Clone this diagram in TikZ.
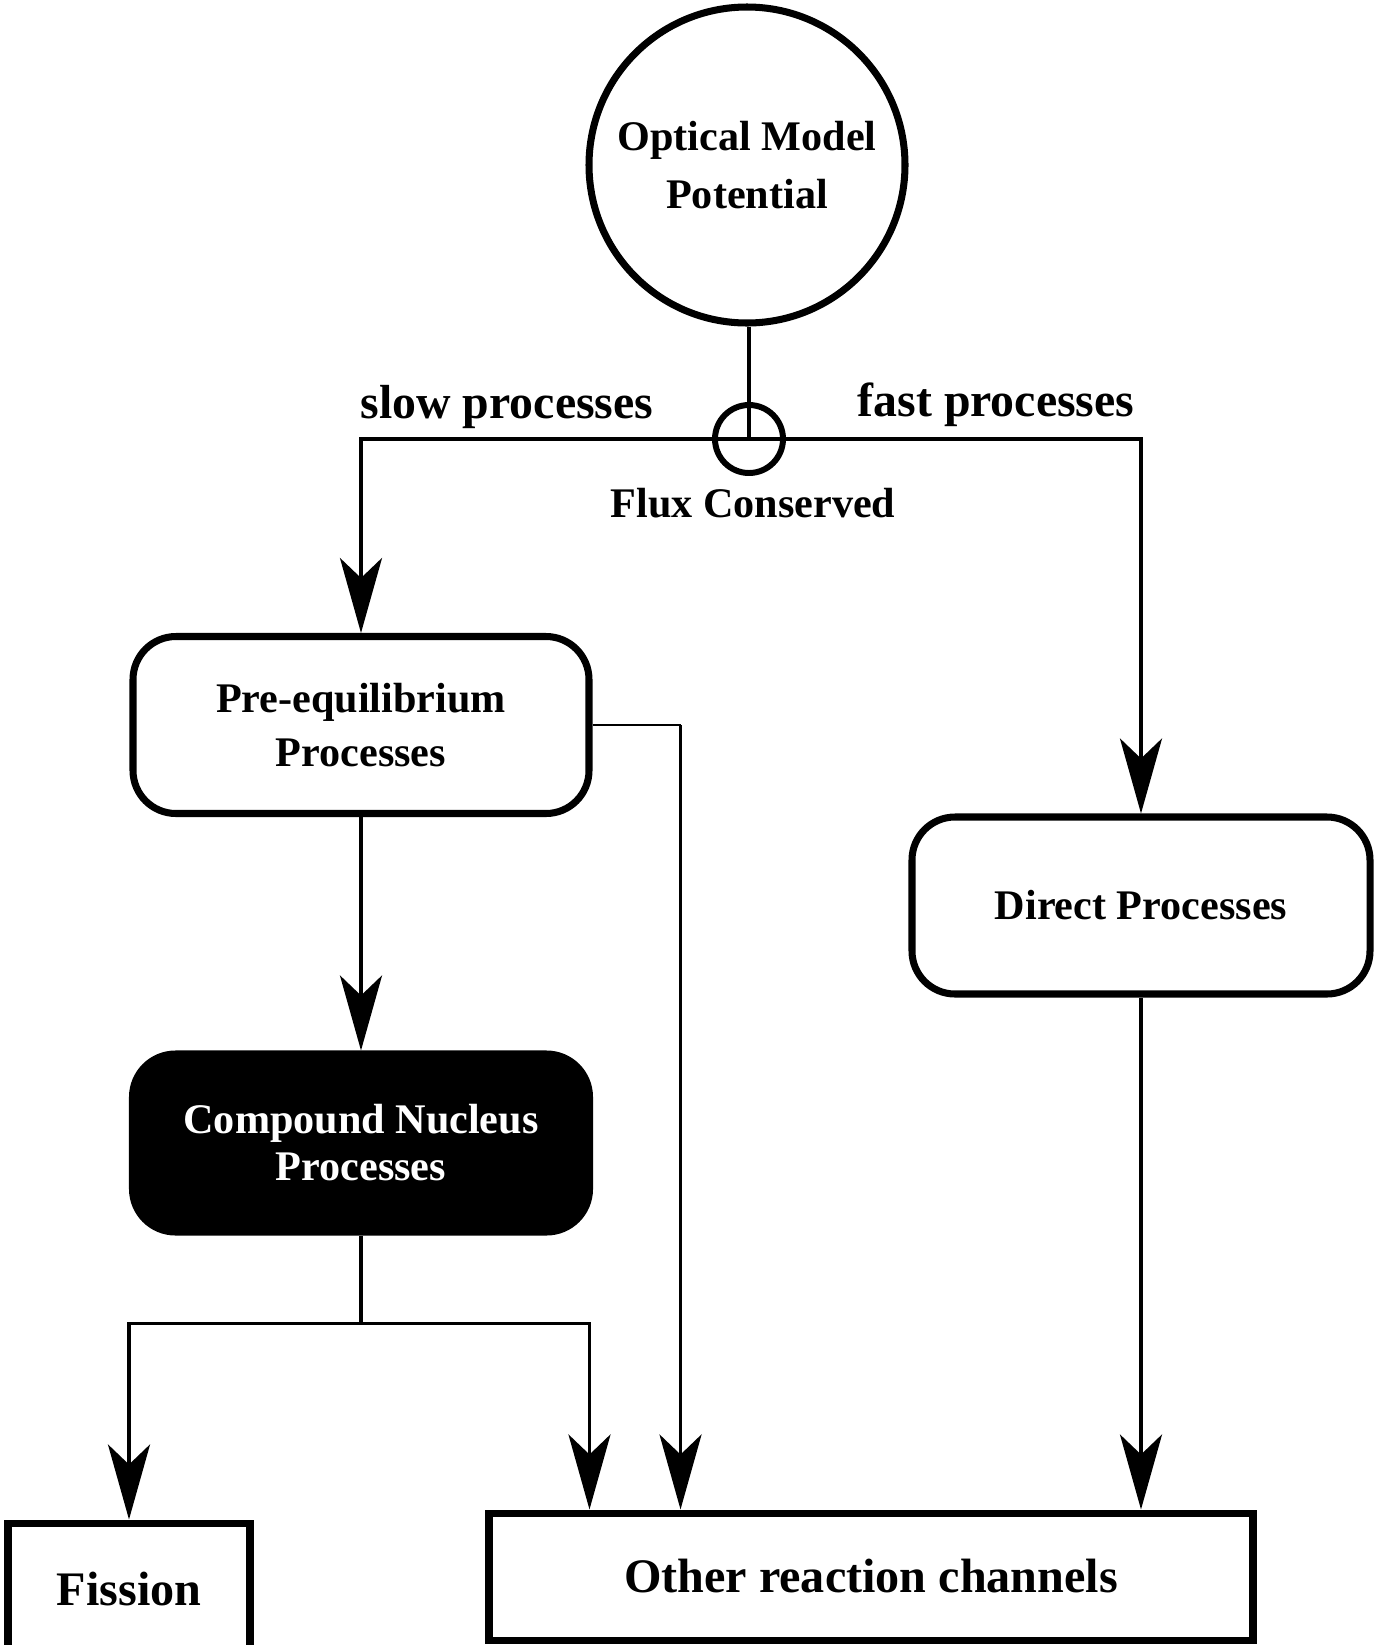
\documentclass[tikz,border=0pt]{standalone}
\usepackage{fontspec}
\setmainfont{Liberation Serif}
\usetikzlibrary{positioning,arrows.meta,calc}
\definecolor{omInk}{RGB}{0,0,0}
\definecolor{omPaper}{RGB}{255,255,255}

\begin{document}
\begin{tikzpicture}[
  font=\bfseries\fontsize{12}{15.5}\selectfont,
  procbox/.style={draw=omInk, line width=2pt, rounded corners=4.3mm, minimum width=4.56cm, minimum height=1.77cm, align=center},
  endbox/.style={draw=omInk, line width=2pt, font=\bfseries\fontsize{13.7}{16}\selectfont},
  flow/.style={omInk, line width=1.1pt, -{Stealth[length=7.5mm, width=4.2mm, inset=2mm]}},
  link/.style={omInk, line width=1.1pt},
  speed/.style={font=\bfseries\fontsize{13.6}{16}\selectfont}
]
  % Page frame
  \clip (0,0) rectangle (13.75,-16.45);
  \fill[omPaper] (0,0) rectangle (13.75,-16.45);

  % Optical model and flux split
  \node[draw=omInk, circle, line width=2pt, minimum size=3.16cm, align=center,
        font=\bfseries\fontsize{12}{16.7}\selectfont] (omp) at (7.47,-1.65) {Optical Model\\Potential};
  \node[draw=omInk, circle, line width=1.7pt, minimum size=0.68cm] (flux) at (7.49,-4.39) {};
  \node[speed] (slow) at (5.07,-4.07) {slow processes};
  \node[speed] (fast) at (9.96,-4.05) {fast processes};
  \node (fluxlbl) at (7.53,-5.03) {Flux Conserved};

  % Process boxes
  \node[procbox] (preq) at (3.61,-7.25) {Pre-equilibrium\\Processes};
  \node[procbox, minimum width=4.58cm] (direct) at (11.41,-9.055) {Direct Processes};
  \node[procbox, fill=omInk, text=omPaper, minimum width=4.57cm, minimum height=1.78cm,
        font=\bfseries\fontsize{12}{13.4}\selectfont] (cn) at (3.61,-11.43) {Compound Nucleus\\Processes};

  % Final channels
  \node[endbox, minimum width=2.42cm, minimum height=1.32cm] (fission) at (1.29,-15.89) {Fission};
  \node[endbox, minimum width=7.64cm, minimum height=1.27cm] (other) at (8.71,-15.765) {Other reaction channels};

  % Connectors
  \draw[link] (flux.center |- omp.south) -- (flux.center);
  \draw[flow] (flux.center) -| (preq.north);
  \draw[flow] (flux.center) -| (direct.north);
  \draw[flow] (preq.south) -- (cn.north);

  \coordinate (preqbend) at ($(preq.east)+(0.88,0)$);
  \draw[omInk, line width=0.6pt] (preq.east) -- (preqbend);
  \draw[flow] (preqbend) -- (preqbend |- other.north);

  \coordinate (cnfork) at ($(cn.south)+(0,-0.88)$);
  \coordinate (cnright) at ($(other.north west)+(1.04,0)$);
  \draw[link] (cn.south) -- (cnfork);
  \draw[flow] (cnfork) -| (fission.north);
  \draw[flow] (cnfork) -| (cnright);

  \draw[flow] (direct.south) -- (direct.south |- other.north);
\end{tikzpicture}
\end{document}
